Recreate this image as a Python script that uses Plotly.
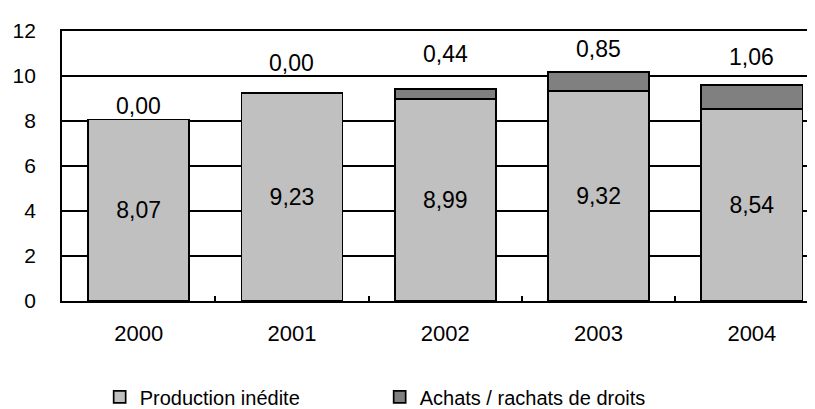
import plotly.graph_objects as go

years = ["2000", "2001", "2002", "2003", "2004"]
production_inedite = [8.07, 9.23, 8.99, 9.32, 8.54]
achats_rachats = [0.00, 0.00, 0.44, 0.85, 1.06]
y_ticks = [0, 2, 4, 6, 8, 10, 12]

# vertical position (axis units) of the labels shown above each bar
top_label_y = [8.67, 10.59, 10.97, 11.19, 10.84]

FONT = "Liberation Sans, Arial, sans-serif"

def fr(v):
    return f"{v:.2f}".replace(".", ",")

fig = go.Figure()
fig.add_trace(go.Bar(
    x=years, y=production_inedite, name="Production inédite",
    marker=dict(color="#C0C0C0", line=dict(color="black", width=1.7)),
    text=[fr(v) for v in production_inedite], textposition="inside",
    insidetextanchor="middle", textangle=0,
    textfont=dict(color="black", size=23, family=FONT),
    width=0.66,
))
fig.add_trace(go.Bar(
    x=years, y=achats_rachats, name="Achats / rachats de droits",
    marker=dict(color="#808080", line=dict(color="black", width=1.7)),
    width=0.66, textposition="none",
))

for i, (v, ly) in enumerate(zip(achats_rachats, top_label_y)):
    fig.add_annotation(x=i, y=ly, xref="x", yref="y", text=fr(v), showarrow=False,
                       font=dict(size=23, color="black", family=FONT),
                       xanchor="center", yanchor="middle")

fig.update_layout(
    barmode="stack",
    width=815, height=409,
    margin=dict(l=54, r=0, t=23, b=110),
    paper_bgcolor="white", plot_bgcolor="white",
    font=dict(family=FONT, size=21, color="black"),
    separators=", ",
    showlegend=True,
    legend=dict(orientation="h", x=0.0495, xanchor="left", y=-0.355, yanchor="middle",
                font=dict(size=20, family=FONT), entrywidth=235, itemwidth=30,
                traceorder="normal"),
)
fig.update_xaxes(
    type="category",
    range=[-0.5, 4.464], showline=True, mirror=True, linecolor="black", linewidth=1.7,
    ticks="inside", ticklen=5, tickcolor="black", tickwidth=1.7,
    tickson="boundaries", showgrid=False, ticklabelstandoff=12,
    tickfont=dict(size=22, family=FONT),
)
fig.update_yaxes(
    range=[0, 12], tickvals=y_ticks, showgrid=True, gridcolor="black", gridwidth=1.7,
    showline=True, linecolor="black", linewidth=1.7, zeroline=False,
    ticks="", ticklabelstandoff=20, tickfont=dict(size=21, family=FONT),
)

fig.write_html("out.html")
